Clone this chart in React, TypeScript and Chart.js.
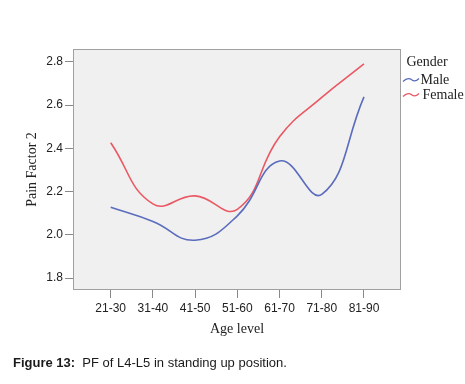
import React, { useEffect, useRef } from "react";
import { Chart, registerables } from "chart.js";

Chart.register(...registerables);

const ageGroups = ["21-30", "31-40", "41-50", "51-60", "61-70", "71-80", "81-90"];
const maleValues = [2.127, 2.062, 1.975, 2.088, 2.341, 2.187, 2.638];
const femaleValues = [2.426, 2.143, 2.18, 2.118, 2.453, 2.635, 2.79];
const yTicks = [1.8, 2.0, 2.2, 2.4, 2.6, 2.8];
const seriesNames = ["Male", "Female"];
const legendTitle = "Gender";
const xTitle = "Age level";
const yTitle = "Pain Factor 2";
const captionBold = "Figure 13:";
const captionText = "PF of L4-L5 in standing up position.";

const BLUE = "#5a6cbd";
const RED = "#eb5863";
const SANS = '"Liberation Sans", Arial, sans-serif';
const SERIF = '"Liberation Serif", "Times New Roman", serif';

const frameAndLegend = {
  id: "frameAndLegend",
  beforeDraw(chart: any) {
    const { ctx, chartArea: a } = chart;
    ctx.save();
    ctx.fillStyle = "#f0f0f0";
    ctx.fillRect(a.left, a.top, a.right - a.left, a.bottom - a.top);
    ctx.restore();
  },
  afterDraw(chart: any) {
    const { ctx, chartArea: a } = chart;
    ctx.save();
    ctx.strokeStyle = "#a0a0a0";
    ctx.lineWidth = 1;
    ctx.strokeRect(Math.round(a.left) + 0.5, Math.round(a.top) + 0.5, Math.round(a.right - a.left) - 1, Math.round(a.bottom - a.top) - 1);

    // legend
    const lx = a.right + 5.5;
    ctx.font = `14px ${SERIF}`;
    ctx.fillStyle = "#222";
    ctx.textBaseline = "middle";
    ctx.textAlign = "left";
    ctx.fillText(legendTitle, lx, 62);
    const colors = [BLUE, RED];
    const ys = [80, 95];
    seriesNames.forEach((name, i) => {
      const y = ys[i];
      const x0 = lx - 3.5;
      const x1 = x0 + 16;
      ctx.strokeStyle = colors[i];
      ctx.lineWidth = 1.3;
      ctx.beginPath();
      ctx.moveTo(x0, y + 1.5);
      ctx.bezierCurveTo(x0 + 4, y - 2.5, x0 + 7, y - 1.5, x0 + 9, y);
      ctx.bezierCurveTo(x0 + 11, y + 1.5, x0 + 13, y + 1.5, x1, y - 1.5);
      ctx.stroke();
      ctx.fillStyle = "#222";
      ctx.fillText(name, x1 + 1.5 + i * 2, y);
    });
    ctx.restore();
  },
};

export default function App() {
  const ref = useRef<HTMLCanvasElement>(null);
  useEffect(() => {
    if (!ref.current) return;
    const chart = new Chart(ref.current, {
      type: "line",
      data: {
        datasets: [
          {
            label: seriesNames[0],
            data: maleValues.map((v, i) => ({ x: i, y: v })),
            borderColor: BLUE,
            borderWidth: 1.6,
            pointRadius: 0,
            tension: 0.45,
            fill: false,
          },
          {
            label: seriesNames[1],
            data: femaleValues.map((v, i) => ({ x: i, y: v })),
            borderColor: RED,
            borderWidth: 1.6,
            pointRadius: 0,
            tension: 0.45,
            fill: false,
          },
        ],
      },
      options: {
        animation: false,
        responsive: false,
        maintainAspectRatio: false,
        layout: { padding: { left: 0, right: 64, top: 49, bottom: 44 } },
        plugins: { legend: { display: false }, tooltip: { enabled: false } },
        scales: {
          x: {
            type: "linear",
            min: -0.893,
            max: 6.877,
            afterBuildTicks: (s: any) => {
              s.ticks = ageGroups.map((_, i) => ({ value: i }));
            },
            afterFit: (s: any) => {
              s.height = 50;
            },
            ticks: {
              autoSkip: false,
              maxRotation: 0,
              padding: 3,
              color: "#222",
              font: { family: SANS, size: 12 },
              callback: (v: any) => ageGroups[v] ?? "",
            },
            grid: { drawOnChartArea: false, drawTicks: true, tickLength: 8, color: "#888" },
            border: { display: false },
            title: {
              display: true,
              text: xTitle,
              color: "#222",
              font: { family: SERIF, size: 14 },
              padding: { top: 0, bottom: 2 },
            },
          },
          y: {
            type: "linear",
            min: 1.745,
            max: 2.859,
            afterBuildTicks: (s: any) => {
              s.ticks = yTicks.map((v) => ({ value: v }));
            },
            afterFit: (s: any) => {
              s.width = 73;
            },
            ticks: {
              padding: 2,
              color: "#222",
              font: { family: SANS, size: 12 },
              callback: (v: any) => Number(v).toFixed(1),
            },
            grid: { drawOnChartArea: false, drawTicks: true, tickLength: 8, color: "#888" },
            border: { display: false },
            title: {
              display: true,
              text: yTitle,
              color: "#222",
              font: { family: SERIF, size: 14 },
              padding: { top: 23.6, bottom: 0 },
            },
          },
        },
      },
      plugins: [frameAndLegend],
    });
    return () => chart.destroy();
  }, []);

  return (
    <div style={{ position: "absolute", left: 0, top: 0, width: 465, height: 384, background: "#fff" }}>
      <canvas ref={ref} width={465} height={384} style={{ width: 465, height: 384, display: "block" }} />
      <div
        style={{
          position: "absolute",
          left: 13,
          top: 356,
          fontFamily: SANS,
          fontSize: 13,
          lineHeight: "14px",
          color: "#1a1a1a",
          whiteSpace: "nowrap",
        }}
      >
        <b>{captionBold}</b>
        {"\u00a0 "}
        {captionText}
      </div>
    </div>
  );
}
